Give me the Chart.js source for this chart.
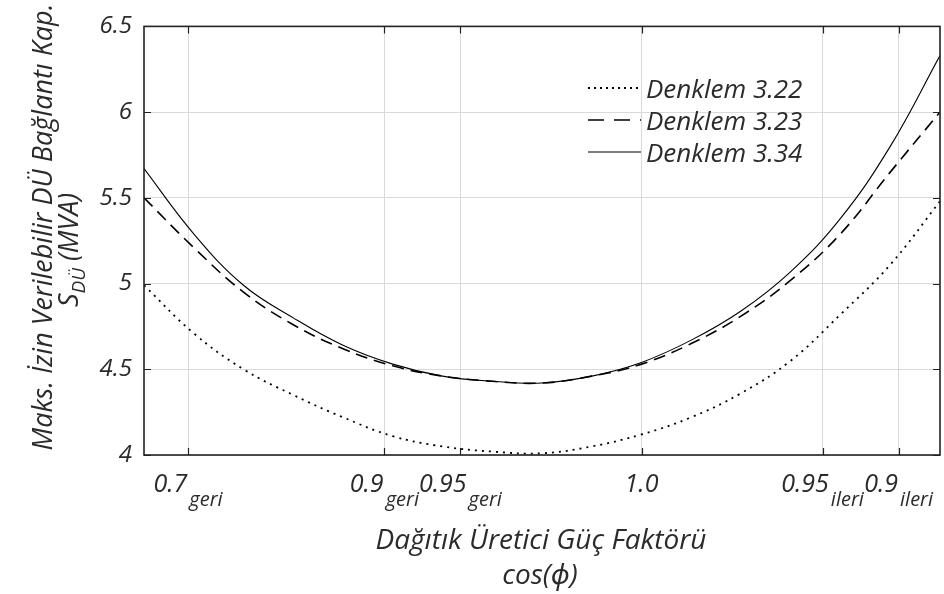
<!DOCTYPE html>
<html>
<head>
<meta charset="utf-8">
<script src="https://cdn.jsdelivr.net/npm/chart.js"></script>
<style>
	html, body { margin: 0; padding: 0; background: #fff; }
	#wrap { width: 944px; height: 594px; position: relative; }
</style>
</head>
<body>
<div id="wrap"><canvas id="sduChart"></canvas></div>
<script>
// power factor angle phi in degrees (negative = lagging / geri)
var phi = [-50, -45, -40, -35, -30, -25, -20, -15, -10, -5, 0, 5, 10, 15, 20, 25, 30];
var denklem322 = [4.99, 4.71, 4.50, 4.35, 4.22, 4.11, 4.05, 4.02, 4.01, 4.05, 4.12, 4.22, 4.36, 4.55, 4.82, 5.11, 5.48];
var denklem323 = [5.50, 5.21, 4.95, 4.76, 4.62, 4.52, 4.46, 4.43, 4.42, 4.46, 4.53, 4.65, 4.81, 5.02, 5.29, 5.65, 6.00];
var denklem334 = [5.67, 5.29, 4.99, 4.80, 4.64, 4.53, 4.46, 4.43, 4.42, 4.46, 4.54, 4.67, 4.84, 5.07, 5.38, 5.80, 6.33];

// x ticks are power factors, placed at their angle
var pfTicks = ['0.7', '0.9', '0.95', '1.0', '0.95', '0.9'];
var pfSides = ['geri', 'geri', 'geri', '', 'ileri', 'ileri'];

var FONT = '"Open Sans", "Noto Sans", sans-serif';
var TXT = '#2b2b2b';

var pfAngles = pfTicks.map(function (pf, i) {
	var a = Math.acos(parseFloat(pf)) * 180 / Math.PI;
	return pfSides[i] === 'geri' ? -a : a;
});

function series(values) {
	return phi.map(function (x, i) { return { x: x, y: values[i] }; });
}

// frame, inward ticks, tick labels with subscripts, titles and legend
var decorations = {
	id: 'decorations',
	afterDraw: function (chart) {
		var ctx = chart.ctx;
		var a = chart.chartArea;
		var xs = chart.scales.x;
		var ys = chart.scales.y;
		ctx.save();

		// inward tick marks on all four sides
		ctx.strokeStyle = '#222';
		ctx.lineWidth = 1.2;
		ctx.beginPath();
		pfAngles.forEach(function (v) {
			var px = Math.round(xs.getPixelForValue(v)) + 0.5;
			ctx.moveTo(px, a.bottom); ctx.lineTo(px, a.bottom - 7);
			ctx.moveTo(px, a.top); ctx.lineTo(px, a.top + 7);
		});
		ys.ticks.forEach(function (t) {
			var py = Math.round(ys.getPixelForValue(t.value)) + 0.5;
			ctx.moveTo(a.left, py); ctx.lineTo(a.left + 7, py);
			ctx.moveTo(a.right, py); ctx.lineTo(a.right - 7, py);
		});
		ctx.stroke();

		// axes box
		ctx.lineWidth = 1.6;
		ctx.strokeStyle = '#222';
		ctx.strokeRect(a.left, a.top, a.right - a.left, a.bottom - a.top);

		// x tick labels: value with geri / ileri subscript
		ctx.fillStyle = TXT;
		ctx.textBaseline = 'alphabetic';
		ctx.textAlign = 'left';
		pfTicks.forEach(function (pf, i) {
			var px = xs.getPixelForValue(pfAngles[i]);
			ctx.font = 'italic 25px ' + FONT;
			var w1 = ctx.measureText(pf).width;
			ctx.font = 'italic 20px ' + FONT;
			var w2 = pfSides[i] ? ctx.measureText(pfSides[i]).width + 2 : 0;
			var x0 = px - (w1 + w2) / 2;
			ctx.font = 'italic 25px ' + FONT;
			ctx.fillText(pf, x0, 492);
			if (pfSides[i]) {
				ctx.font = 'italic 20px ' + FONT;
				ctx.fillText(pfSides[i], x0 + w1 + 2, 506);
			}
		});

		// x axis title
		ctx.textAlign = 'center';
		ctx.font = 'italic 28px ' + FONT;
		ctx.fillText('Dağıtık Üretici Güç Faktörü', 541, 549);
		ctx.fillText('cos(ϕ)', 540, 584);

		// y axis title, two rotated lines
		ctx.save();
		ctx.translate(52, 227);
		ctx.rotate(-Math.PI / 2);
		ctx.textAlign = 'center';
		ctx.font = 'italic 27px ' + FONT;
		ctx.fillText('Maks. İzin Verilebilir DÜ Bağlantı Kap.', 0, 0);
		ctx.restore();

		ctx.save();
		ctx.translate(78, 250);
		ctx.rotate(-Math.PI / 2);
		ctx.textAlign = 'left';
		ctx.font = 'italic 27px ' + FONT;
		var sW = ctx.measureText('S').width;
		var rest = ' (MVA)';
		var rW = ctx.measureText(rest).width;
		ctx.font = 'italic 19px ' + FONT;
		var subW = ctx.measureText('DÜ').width;
		var start = -(sW + subW + rW) / 2;
		ctx.font = 'italic 27px ' + FONT;
		ctx.fillText('S', start, 0);
		ctx.font = 'italic 19px ' + FONT;
		ctx.fillText('DÜ', start + sW, 7);
		ctx.font = 'italic 27px ' + FONT;
		ctx.fillText(rest, start + sW + subW, 0);
		ctx.restore();

		// legend
		chart.data.datasets.forEach(function (ds, i) {
			var ly = 88 + i * 32;
			ctx.save();
			ctx.strokeStyle = ds.borderColor;
			ctx.lineWidth = ds.borderWidth;
			ctx.setLineDash(ds.legendDash || []);
			ctx.beginPath();
			ctx.moveTo(588, ly);
			ctx.lineTo(641, ly);
			ctx.stroke();
			ctx.restore();
			ctx.fillStyle = TXT;
			ctx.textAlign = 'left';
			ctx.textBaseline = 'middle';
			ctx.font = 'italic 26px ' + FONT;
			ctx.fillText(ds.label, 646, ly + 3);
		});

		ctx.restore();
	}
};

var ctx = document.getElementById('sduChart');
var chart = new Chart(ctx, {
	type: 'line',
	data: {
		datasets: [{
			label: 'Denklem 3.22',
			data: series(denklem322),
			borderColor: '#000',
			borderWidth: 1.8,
			borderDash: [2, 5],
			legendDash: [2, 4],
			pointRadius: 0,
			tension: 0.4
		}, {
			label: 'Denklem 3.23',
			data: series(denklem323),
			borderColor: '#000',
			borderWidth: 1.6,
			borderDash: [12, 7],
			legendDash: [16, 10],
			pointRadius: 0,
			tension: 0.4
		}, {
			label: 'Denklem 3.34',
			data: series(denklem334),
			borderColor: '#000',
			borderWidth: 1.1,
			pointRadius: 0,
			tension: 0.4
		}]
	},
	options: {
		responsive: true,
		maintainAspectRatio: false,
		animation: false,
		layout: { padding: { left: 0, right: 4, top: 25, bottom: 0 } },
		plugins: {
			legend: { display: false },
			tooltip: { enabled: false }
		},
		scales: {
			x: {
				type: 'linear',
				min: -50,
				max: 30,
				afterBuildTicks: function (scale) {
					scale.ticks = pfAngles.map(function (v) { return { value: v }; });
				},
				afterFit: function (scale) { scale.height = 139; },
				ticks: { display: false },
				grid: { color: '#dadada', lineWidth: 1, drawTicks: false },
				border: { display: false }
			},
			y: {
				min: 4,
				max: 6.5,
				afterFit: function (scale) { scale.width = 144; },
				ticks: {
					stepSize: 0.5,
					padding: 12,
					color: TXT,
					font: { family: FONT, size: 24, style: 'italic' },
					callback: function (v) { return String(v); }
				},
				grid: { color: '#dadada', lineWidth: 1, drawTicks: false },
				border: { display: false }
			}
		}
	},
	plugins: [decorations]
});
</script>
</body>
</html>
